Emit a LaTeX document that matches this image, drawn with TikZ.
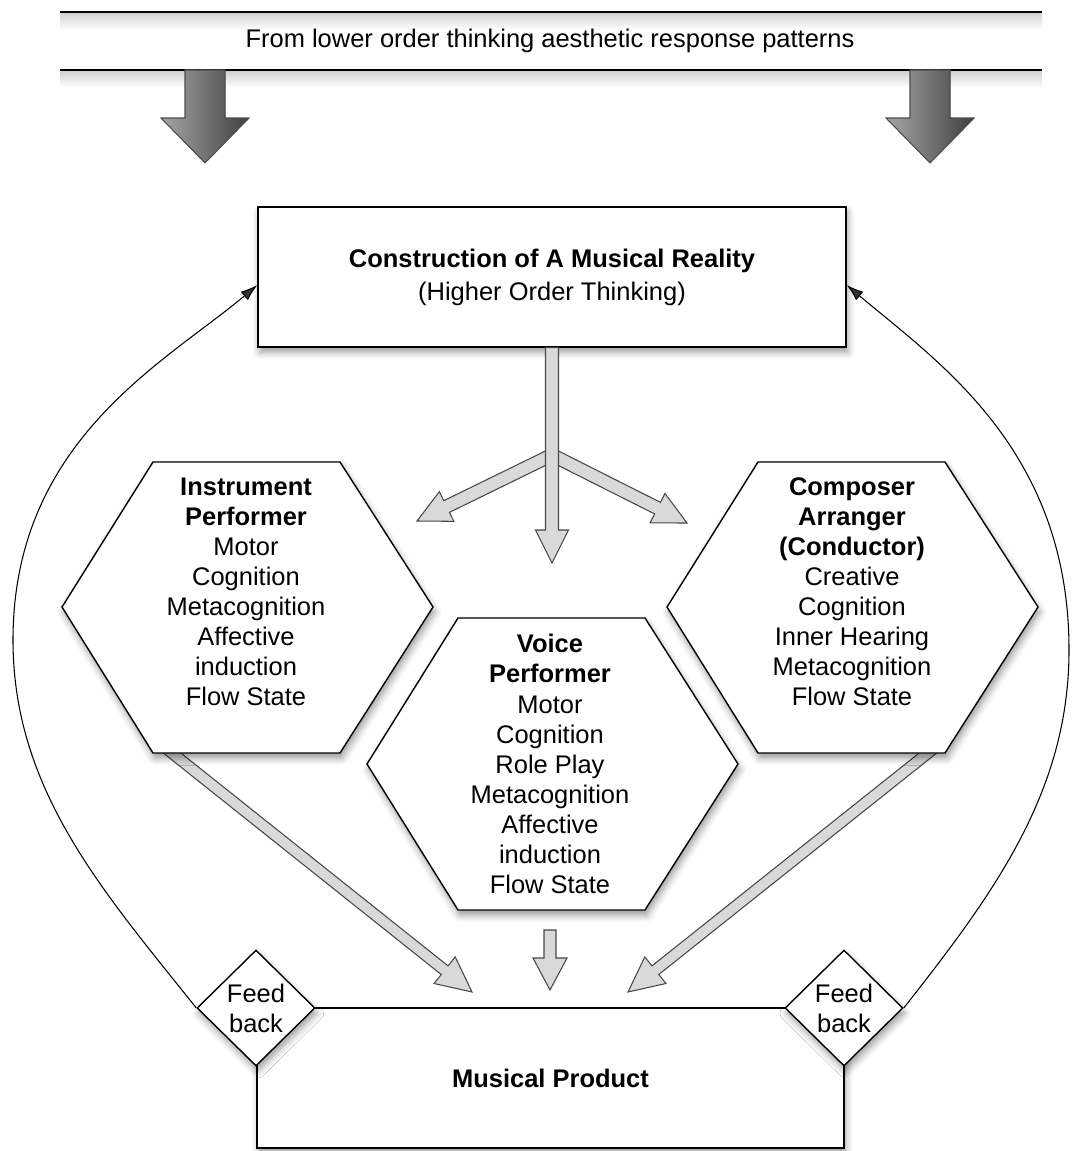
\documentclass[tikz,border=0pt]{standalone}
\usepackage{fontspec}
\setmainfont{Liberation Sans}
\usepackage{tikz}
\usetikzlibrary{arrows.meta, calc, shapes.geometric, shadows.blur}

\newcommand{\fatarrow}[6][]{%
  \coordinate (fneck) at ($(#3)!#6!(#2)$);
  \filldraw[#1] ($(#2)!#4!90:(#3)$) -- ($(fneck)!#4!90:(#3)$) -- ($(fneck)!#5!90:(#3)$) -- (#3)
    -- ($(fneck)!#5!-90:(#3)$) -- ($(fneck)!#4!-90:(#3)$) -- ($(#2)!#4!-90:(#3)$) -- cycle;
}

\tikzset{
  txt/.style={align=center, font=\fontsize{14.5pt}{17.1pt}\selectfont},
  soft/.style={blur shadow={shadow xshift=1pt, shadow yshift=-3pt, shadow blur radius=4pt}},
  box/.style={draw, line width=0.8pt, fill=white, minimum width=11.76cm, minimum height=2.8cm, txt, soft},
  hexa/.style={draw, line width=0.8pt, fill=white, soft},
  fbdiamond/.style={diamond, draw, line width=0.8pt, fill=white, inner sep=0pt, minimum width=2.36cm, minimum height=2.32cm, txt, soft},
  hollow/.style={draw=black!72, fill=black!15, line width=0.6pt},
  dark/.style={draw=black!70, line width=0.6pt, left color=black!35, right color=black!75},
  fback/.style={line width=0.6pt, -{Latex[length=0.34cm, width=0.22cm]}}
}

\begin{document}
\begin{tikzpicture}[x=0.02cm, y=-0.02cm]
\useasboundingbox (0,0) rectangle (1072,1151);

\shade[top color=black!18, bottom color=white] (60,13) rectangle (1042,30);
\shade[top color=black!18, bottom color=white] (60,71) rectangle (1042,88);
\draw[line width=0.7pt] (60,12) -- (1042,12);
\draw[line width=0.7pt] (60,70) -- (1042,70);
\node[txt] (source) at (550,41) {From lower order thinking aesthetic response patterns};

\coordinate (bandL) at (205,70);
\coordinate (bandR) at (930,70);
\coordinate (dropL) at (205,163);
\coordinate (dropR) at (930,163);
\fatarrow[dark]{bandL}{dropL}{0.4cm}{0.88cm}{0.9cm}
\fatarrow[dark]{bandR}{dropR}{0.4cm}{0.88cm}{0.9cm}

\node[box] (reality) at (552,277) {\textbf{Construction of A Musical Reality}\\[0.06cm](Higher Order Thinking)};

\coordinate (split) at (552,455);
\coordinate (toInstr) at (417,521);
\coordinate (toComp) at (687,523);
\coordinate (toVoice) at (552,563);
\fatarrow[hollow]{split}{toInstr}{0.13cm}{0.33cm}{0.66cm}
\fatarrow[hollow]{split}{toComp}{0.13cm}{0.33cm}{0.66cm}
\fatarrow[hollow]{reality.south}{toVoice}{0.13cm}{0.33cm}{0.66cm}

\coordinate (instrFoot) at (162,745);
\coordinate (compFoot) at (938,745);
\coordinate (voiceFoot) at (550,930);
\coordinate (inL) at (472,992);
\coordinate (inR) at (628,992);
\coordinate (inC) at (550,990);
\fatarrow[hollow]{instrFoot}{inL}{0.11cm}{0.34cm}{0.7cm}
\fatarrow[hollow]{compFoot}{inR}{0.11cm}{0.34cm}{0.7cm}
\fatarrow[hollow]{voiceFoot}{inC}{0.12cm}{0.34cm}{0.64cm}

\draw[hexa] (62,607) -- (153,462) -- (340,462) -- (433,607) -- (340,753) -- (153,753) -- cycle;
\draw[hexa] (667,607) -- (758,462) -- (945,462) -- (1038,607) -- (945,753) -- (758,753) -- cycle;
\draw[hexa] (367,764) -- (458,618) -- (645,618) -- (738,764) -- (645,910) -- (458,910) -- cycle;

\node[txt] (instr) at (246,592) {\textbf{Instrument}\\\textbf{Performer}\\Motor\\Cognition\\Metacognition\\Affective\\induction\\Flow State};
\node[txt] (comp) at (852,592) {\textbf{Composer}\\\textbf{Arranger}\\\textbf{(Conductor)}\\Creative\\Cognition\\Inner Hearing\\Metacognition\\Flow State};
\node[txt] (voice) at (550,764) {\textbf{Voice}\\\textbf{Performer}\\Motor\\Cognition\\Role Play\\Metacognition\\Affective\\induction\\Flow State};

\node[box, minimum width=11.74cm] (product) at (550.5,1078) {\textbf{Musical Product}};
\node[fbdiamond] (fbL) at (256,1008) {Feed\\back};
\node[fbdiamond] (fbR) at (844,1008) {Feed\\back};

\draw[fback] (fbL.west) .. controls (103,891) and (13,790) .. (13,640) .. controls (13,440) and (166,362) .. ([yshift=-0.16cm]reality.west);
\draw[fback] (fbR.east) .. controls (996,891) and (1069,790) .. (1069,650) .. controls (1069,450) and (938,362) .. ([yshift=-0.16cm]reality.east);
\end{tikzpicture}
\end{document}
